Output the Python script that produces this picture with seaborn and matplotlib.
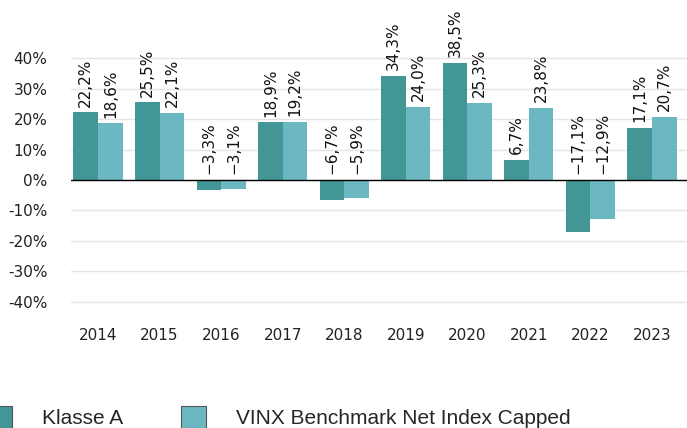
import matplotlib
matplotlib.use("Agg")
import matplotlib.pyplot as plt
import seaborn as sns
import pandas as pd
from matplotlib.patches import Patch

years = ["2014", "2015", "2016", "2017", "2018", "2019", "2020", "2021", "2022", "2023"]
klasse_a = [22.2, 25.5, -3.3, 18.9, -6.7, 34.3, 38.5, 6.7, -17.1, 17.1]
vinx = [18.6, 22.1, -3.1, 19.2, -5.9, 24.0, 25.3, 23.8, -12.9, 20.7]
series_names = ["Klasse A", "VINX Benchmark Net Index Capped"]
yticks = [-40, -30, -20, -10, 0, 10, 20, 30, 40]
colors = ["#429696", "#6bb8c2"]

df = pd.DataFrame({
    "year": years * 2,
    "value": klasse_a + vinx,
    "series": [series_names[0]] * len(years) + [series_names[1]] * len(years),
})

sns.set_theme(style="white")
plt.rcParams["font.family"] = ["DejaVu Sans"]

fig = plt.figure(figsize=(6.87, 4.28), dpi=100)
ax = fig.add_axes([71 / 687, (428 - 320) / 428, 1 - 71 / 687, 280 / 428])

sns.barplot(data=df, x="year", y="value", hue="series", palette=colors,
            width=0.8, ax=ax, legend=False, saturation=1, linewidth=0, zorder=3)

ax.set_ylim(-46, 46)
ax.set_xlim(-0.44, 9.57)
ax.set_yticks(yticks)
ax.set_yticklabels([f"{t}%" for t in yticks])
ax.grid(axis="y", color="#e4e4e4", linewidth=1, zorder=0)
ax.axhline(0, color="black", linewidth=1, zorder=4)
for s in ax.spines.values():
    s.set_visible(False)
ax.tick_params(axis="y", length=0, pad=17, labelsize=11, colors="#222222")
ax.tick_params(axis="x", length=0, pad=6, labelsize=11, colors="#222222")
ax.set_xlabel("")
ax.set_ylabel("")

for p in ax.patches:
    h = p.get_height()
    if p.get_width() == 0:
        continue
    lbl = f"{abs(h):.1f}".replace(".", ",") + "%"
    if h < 0:
        lbl = "\u2212" + lbl
    ax.annotate(lbl, (p.get_x() + p.get_width() / 2, max(h, 0)),
                xytext=(0, 4), textcoords="offset points",
                ha="center", va="bottom", rotation=90, fontsize=11,
                color="#111111", annotation_clip=False, zorder=5)

handles = [Patch(facecolor=c, edgecolor="#555555", linewidth=0.8) for c in colors]
fig.legend(handles, series_names, loc="center left", bbox_to_anchor=(-13 / 687, 11 / 428),
           ncol=2, frameon=False, borderpad=0, borderaxespad=0,
           handlelength=1.2, handleheight=1.2, handletextpad=1.43, columnspacing=2.8,
           prop={"family": "Liberation Sans", "size": 15})

fig.savefig("out.png", dpi=100)
